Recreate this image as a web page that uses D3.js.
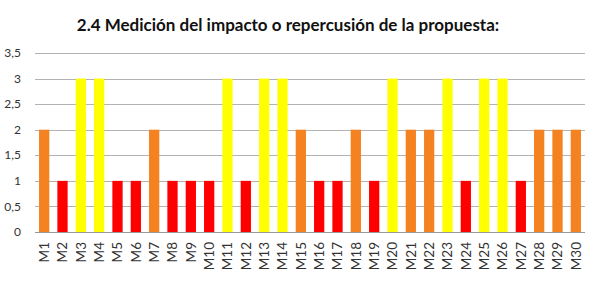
<!DOCTYPE html>
<html>
<head>
<meta charset="utf-8">
<script src="https://cdn.jsdelivr.net/npm/d3@7"></script>
<style>
  body { margin: 0; background: #fff; }
  text { font-family: Lato, "Open Sans", sans-serif; }
</style>
</head>
<body>
<div id="chart"></div>
<script>
var width = 605;
var height = 284;

// data
var categories = ["M1","M2","M3","M4","M5","M6","M7","M8","M9","M10",
  "M11","M12","M13","M14","M15","M16","M17","M18","M19","M20",
  "M21","M22","M23","M24","M25","M26","M27","M28","M29","M30"];
var values = [2,1,3,3,1,1,2,1,1,1, 3,1,3,3,2,1,1,2,1,3, 2,2,3,1,3,3,1,2,2,2];
var yTicks = [0, 0.5, 1, 1.5, 2, 2.5, 3, 3.5];
var levelColors = { 1: "#FF0000", 2: "#F58220", 3: "#FFFF00" };
var title = "2.4 Medición del impacto o repercusión de la propuesta:";

var margin = { top: 53, right: 20, bottom: 52, left: 35 };

var svg = d3.select("#chart")
  .append("svg")
  .attr("width", width)
  .attr("height", height);

svg.append("rect")
  .attr("width", "100%")
  .attr("height", "100%")
  .attr("fill", "white");

var x = d3.scaleBand()
  .domain(categories)
  .range([margin.left, width - margin.right])
  .paddingInner(0.44)
  .paddingOuter(0.22);

var y = d3.scaleLinear()
  .domain([0, 3.5])
  .range([height - margin.bottom, margin.top]);

var fmt = function(d) { return String(d).replace(".", ","); };

// gridlines
svg.append("g")
  .selectAll("line")
  .data(yTicks.filter(function(d) { return d > 0; }))
  .enter()
  .append("line")
  .attr("x1", margin.left)
  .attr("x2", width - margin.right)
  .attr("y1", function(d) { return Math.round(y(d)) + 0.5; })
  .attr("y2", function(d) { return Math.round(y(d)) + 0.5; })
  .style("stroke", "#B3B3B3")
  .style("stroke-width", 1);

// y labels
svg.append("g")
  .selectAll("text")
  .data(yTicks)
  .enter()
  .append("text")
  .attr("x", 21)
  .attr("y", function(d) { return y(d); })
  .attr("dy", "0.35em")
  .attr("text-anchor", "end")
  .style("font-size", "12px")
  .style("fill", "#333")
  .text(fmt);

// bars
svg.append("g")
  .selectAll("rect")
  .data(values)
  .enter()
  .append("rect")
  .attr("x", function(d, i) { return x(categories[i]); })
  .attr("width", x.bandwidth())
  .attr("y", function(d) { return y(d); })
  .attr("height", function(d) { return y(0) - y(d); })
  .style("fill", function(d) { return levelColors[d]; });

// baseline
svg.append("line")
  .attr("x1", margin.left)
  .attr("x2", width - margin.right)
  .attr("y1", Math.round(y(0)) + 0.5)
  .attr("y2", Math.round(y(0)) + 0.5)
  .style("stroke", "#999")
  .style("stroke-width", 1);

// x labels, rotated
svg.append("g")
  .selectAll("text")
  .data(categories)
  .enter()
  .append("text")
  .attr("transform", function(d) {
    return "translate(" + (x(d) + x.bandwidth() / 2) + "," + (y(0) + 10) + ") rotate(-90)";
  })
  .attr("dy", "0.35em")
  .attr("text-anchor", "end")
  .style("font-size", "13.5px")
  .style("fill", "#333")
  .text(function(d) { return d; });

// title
svg.append("text")
  .attr("x", 288)
  .attr("y", 31)
  .attr("text-anchor", "middle")
  .style("font-size", "17px")
  .style("font-weight", "bold")
  .style("fill", "#111")
  .text(title);
</script>
</body>
</html>
